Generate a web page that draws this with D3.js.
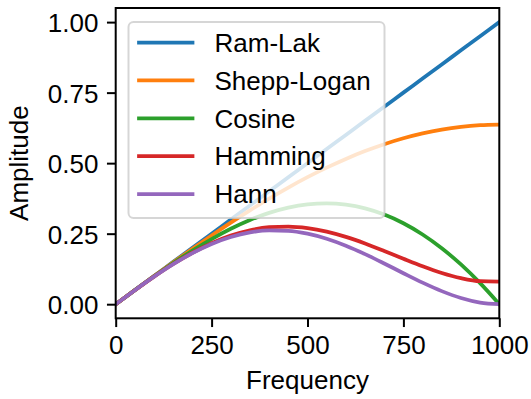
<!DOCTYPE html>
<html>
<head>
<meta charset="utf-8">
<script src="https://cdn.jsdelivr.net/npm/d3@7"></script>
<style>
  html, body { margin: 0; padding: 0; background: #fff; }
  svg { display: block; font-family: "Liberation Sans", Arial, sans-serif; }
</style>
</head>
<body>
<svg id="chart" width="531" height="399"></svg>
<script>
// Frequency samples (0 … 1000)
const frequency = [0, 50, 100, 150, 200, 250, 300, 350, 400, 450, 500,
                   550, 600, 650, 700, 750, 800, 850, 900, 950, 1000];

// Filter amplitude responses at each frequency sample
const ramLak = [0, 0.05, 0.10, 0.15, 0.20, 0.25, 0.30, 0.35, 0.40, 0.45, 0.50,
                0.55, 0.60, 0.65, 0.70, 0.75, 0.80, 0.85, 0.90, 0.95, 1.00];
const sheppLogan = [0, 0.04995, 0.09959, 0.14862, 0.19673, 0.24362, 0.28902, 0.33263,
                    0.37420, 0.41345, 0.45016, 0.48409, 0.51504, 0.54281, 0.56724,
                    0.58816, 0.60546, 0.61903, 0.62878, 0.63466, 0.63662];
const cosine = [0, 0.04985, 0.09877, 0.14586, 0.19021, 0.23097, 0.26730, 0.29842,
                0.32361, 0.34218, 0.35355, 0.35720, 0.35267, 0.33963, 0.31779,
                0.28701, 0.24722, 0.19843, 0.14079, 0.07454, 0];
const hamming = [0, 0.04972, 0.09775, 0.14248, 0.18243, 0.21632, 0.24311, 0.26209,
                 0.27286, 0.27538, 0.27000, 0.25742, 0.23871, 0.21525, 0.18873,
                 0.16105, 0.13428, 0.11062, 0.09226, 0.08139, 0.08000];
const hann = [0, 0.04969, 0.09755, 0.14183, 0.18090, 0.21339, 0.23817, 0.25445,
              0.26180, 0.26020, 0.25000, 0.23198, 0.20729, 0.17745, 0.14428,
              0.10984, 0.07639, 0.04632, 0.02202, 0.00585, 0];

const seriesNames = ["Ram-Lak", "Shepp-Logan", "Cosine", "Hamming", "Hann"];
const seriesValues = [ramLak, sheppLogan, cosine, hamming, hann];
const seriesColors = ["#1f77b4", "#ff7f0e", "#2ca02c", "#d62728", "#9467bd"];

const xTicks = [0, 250, 500, 750, 1000];
const yTicks = [0, 0.25, 0.5, 0.75, 1.0];

const svg = d3.select("#chart");
const plotL = 115.7, plotR = 499.3, plotT = 8, plotB = 318.3;
const fontSize = 26;

const x = d3.scaleLinear().domain([0, 1000]).range([plotL, plotR]);
const y = d3.scaleLinear().domain([-0.05, 1.05]).range([plotB, plotT]);

svg.append("clipPath").attr("id", "plotClip")
  .append("rect")
  .attr("x", plotL).attr("y", plotT)
  .attr("width", plotR - plotL).attr("height", plotB - plotT);

// Curves
const line = d3.line()
  .x((d, i) => x(frequency[i]))
  .y(d => y(d))
  .curve(d3.curveMonotoneX);

const curves = svg.append("g").attr("clip-path", "url(#plotClip)");
seriesValues.forEach((vals, k) => {
  curves.append("path")
    .datum(vals)
    .attr("d", line)
    .attr("fill", "none")
    .attr("stroke", seriesColors[k])
    .attr("stroke-width", 3.75)
    .attr("stroke-linejoin", "round")
    .attr("stroke-linecap", "square");
});

// Axes
const tickLen = 8.75, tickPad = 8.5;
const xAxis = d3.axisBottom(x).tickValues(xTicks).tickFormat(d3.format("d"))
  .tickSizeInner(tickLen).tickSizeOuter(0).tickPadding(tickPad);
const yAxis = d3.axisLeft(y).tickValues(yTicks).tickFormat(d3.format(".2f"))
  .tickSizeInner(tickLen).tickSizeOuter(0).tickPadding(tickPad);

const gx = svg.append("g").attr("transform", `translate(0,${plotB})`).call(xAxis);
const gy = svg.append("g").attr("transform", `translate(${plotL},0)`).call(yAxis);
[gx, gy].forEach(g => {
  g.select(".domain").remove();
  g.selectAll(".tick line").attr("stroke", "#000").attr("stroke-width", 2);
  g.selectAll(".tick text")
    .attr("fill", "#000")
    .attr("font-size", fontSize)
    .attr("font-family", "Liberation Sans, Arial, sans-serif");
});
gy.selectAll(".tick text").attr("dy", "0.36em");

// Frame
svg.append("rect")
  .attr("x", plotL).attr("y", plotT)
  .attr("width", plotR - plotL).attr("height", plotB - plotT)
  .attr("fill", "none")
  .attr("stroke", "#000")
  .attr("stroke-width", 2);

// Axis titles
svg.append("text")
  .attr("x", (plotL + plotR) / 2).attr("y", 389)
  .attr("text-anchor", "middle")
  .attr("font-size", fontSize)
  .text("Frequency");
svg.append("text")
  .attr("transform", `translate(28,${(plotT + plotB) / 2}) rotate(-90)`)
  .attr("text-anchor", "middle")
  .attr("font-size", fontSize)
  .text("Amplitude");

// Legend
const legend = svg.append("g");
legend.append("rect")
  .attr("x", 128.5).attr("y", 22)
  .attr("width", 256).attr("height", 196)
  .attr("rx", 5).attr("ry", 5)
  .attr("fill", "rgba(255,255,255,0.8)")
  .attr("stroke", "rgba(204,204,204,0.8)")
  .attr("stroke-width", 2);

const rowY = d3.scaleLinear().domain([0, 4]).range([42.5, 194]);
seriesNames.forEach((name, k) => {
  const yy = rowY(k);
  legend.append("line")
    .attr("x1", 139).attr("x2", 192.5)
    .attr("y1", yy).attr("y2", yy)
    .attr("stroke", seriesColors[k])
    .attr("stroke-width", 3.75)
    .attr("stroke-linecap", "square");
  legend.append("text")
    .attr("x", 214.5).attr("y", yy)
    .attr("dy", "0.36em")
    .attr("font-size", fontSize)
    .text(name);
});
</script>
</body>
</html>
